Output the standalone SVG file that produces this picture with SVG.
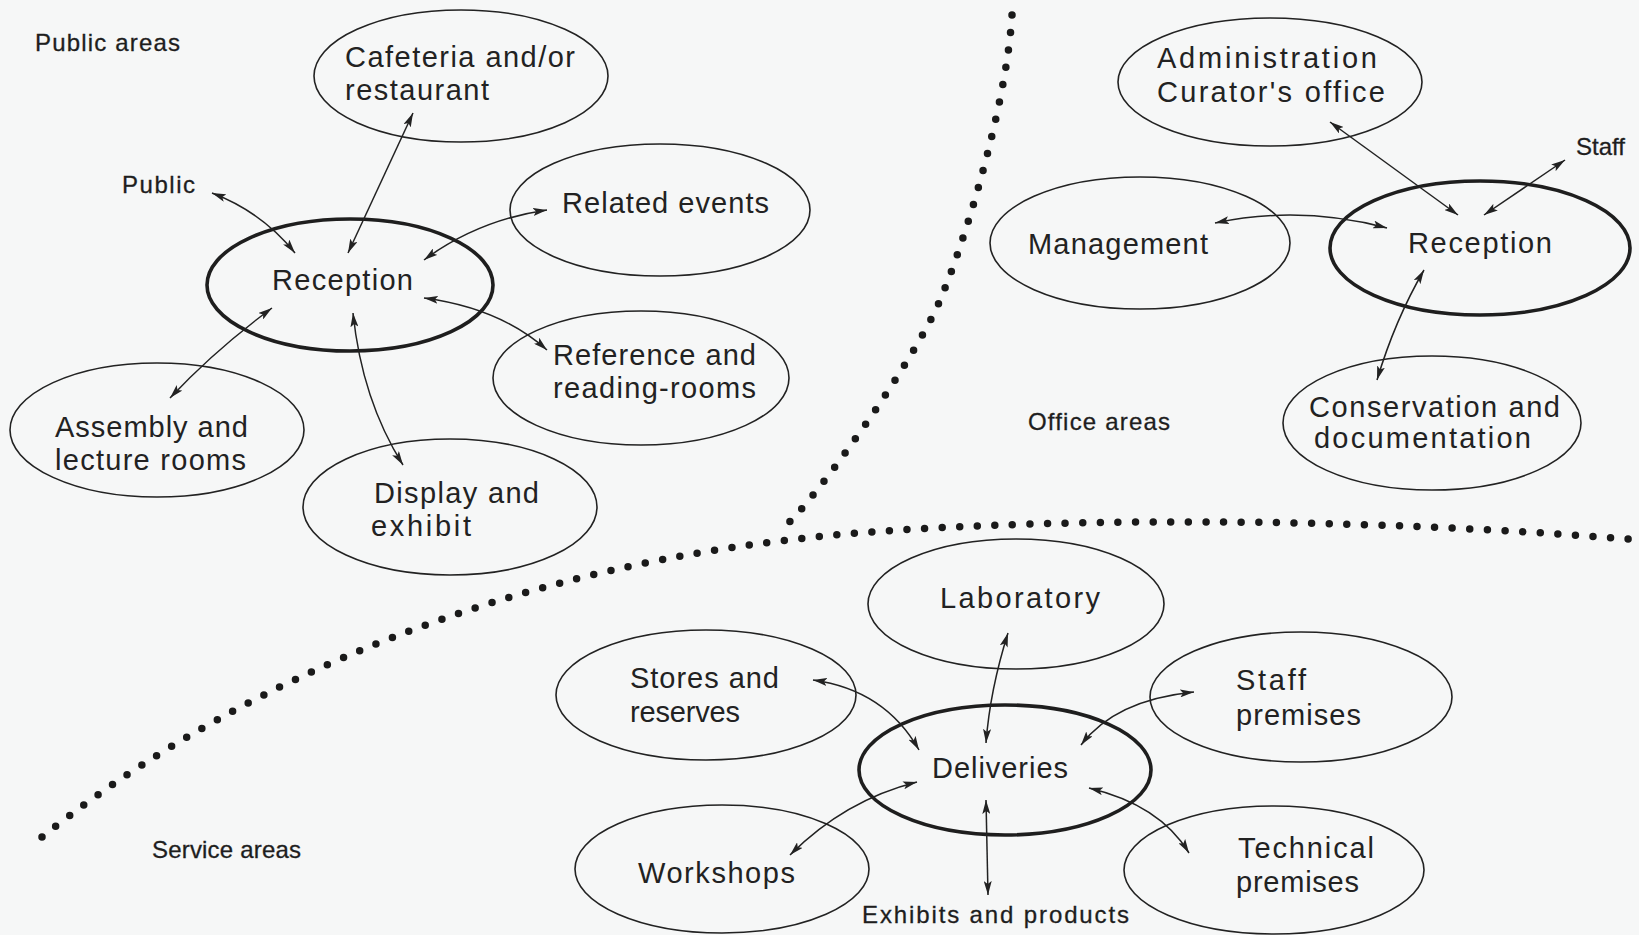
<svg xmlns="http://www.w3.org/2000/svg" width="1639" height="935" viewBox="0 0 1639 935">
<style>
.n{fill:none;stroke:#222;stroke-width:1.6}
.k{fill:none;stroke:#1e1e1e;stroke-width:3.6}
.t{font-family:"Liberation Sans",Arial,sans-serif;font-size:29px;fill:#222}
.s{font-family:"Liberation Sans",Arial,sans-serif;font-size:24px;fill:#1e1e1e;stroke:#1e1e1e;stroke-width:0.3}
.c{fill:none;stroke:#222;stroke-width:1.5;marker-start:url(#ah);marker-end:url(#ah)}
.d{fill:none;stroke:#1a1a1a;stroke-width:7.5;stroke-linecap:round;stroke-dasharray:0 17.6}
</style>
<defs>
<marker id="ah" viewBox="0 0 14 8" refX="14" refY="4" markerWidth="14" markerHeight="8" markerUnits="userSpaceOnUse" orient="auto-start-reverse">
<path d="M0,0 L14,4 L0,8 L3,4 z" fill="#222"/>
</marker>
</defs>
<rect width="1639" height="935" fill="#f6f7f7"/>

<g id="dividers">
<path class="d" d="M1012,15 C1006,110 962,250 940,300 C918,355 815,502 781,530"/>
<path class="d" d="M42,837 C200,710 450,580 788,540 C950,520 1300,512 1639,540"/>
</g>

<g id="labels">
<text class="s" x="35" y="51" textLength="145">Public areas</text>
<text class="s" x="122" y="193" textLength="73">Public</text>
<text class="s" x="1576" y="155" textLength="49">Staff</text>
<text class="s" x="1028" y="430" textLength="142">Office areas</text>
<text class="s" x="152" y="858" textLength="149">Service areas</text>
<text class="s" x="862" y="923" textLength="267">Exhibits and products</text>
</g>

<g id="cafeteria"><ellipse class="n" cx="461" cy="76" rx="147" ry="66"/>
<text class="t" x="345" y="67" textLength="230">Cafeteria and/or</text>
<text class="t" x="345" y="100" textLength="144">restaurant</text></g>

<g id="reception-public"><ellipse class="k" cx="350" cy="285" rx="143" ry="66"/>
<text class="t" x="272" y="290" textLength="141">Reception</text></g>

<g id="related-events"><ellipse class="n" cx="660" cy="210" rx="150" ry="66"/>
<text class="t" x="562" y="213" textLength="207">Related events</text></g>

<g id="reference"><ellipse class="n" cx="641" cy="378" rx="148" ry="67"/>
<text class="t" x="553" y="365" textLength="203">Reference and</text>
<text class="t" x="553" y="398" textLength="203">reading-rooms</text></g>

<g id="assembly"><ellipse class="n" cx="157" cy="430" rx="147" ry="67"/>
<text class="t" x="55" y="437" textLength="193">Assembly and</text>
<text class="t" x="55" y="470" textLength="191">lecture rooms</text></g>

<g id="display"><ellipse class="n" cx="450" cy="507" rx="147" ry="68"/>
<text class="t" x="374" y="503" textLength="165">Display and</text>
<text class="t" x="371" y="536" textLength="100">exhibit</text></g>

<g id="administration"><ellipse class="n" cx="1270" cy="82" rx="152" ry="64"/>
<text class="t" x="1157" y="68" textLength="220">Administration</text>
<text class="t" x="1157" y="102" textLength="228">Curator's office</text></g>

<g id="management"><ellipse class="n" cx="1140" cy="243" rx="150" ry="66"/>
<text class="t" x="1028" y="254" textLength="180">Management</text></g>

<g id="reception-office"><ellipse class="k" cx="1480" cy="248" rx="150" ry="67"/>
<text class="t" x="1408" y="253" textLength="144">Reception</text></g>

<g id="conservation"><ellipse class="n" cx="1432" cy="423" rx="149" ry="67"/>
<text class="t" x="1309" y="417" textLength="251">Conservation and</text>
<text class="t" x="1314" y="448" textLength="217">documentation</text></g>

<g id="laboratory"><ellipse class="n" cx="1016" cy="604" rx="148" ry="65"/>
<text class="t" x="940" y="608" textLength="160">Laboratory</text></g>

<g id="stores"><ellipse class="n" cx="706" cy="695" rx="150" ry="65"/>
<text class="t" x="630" y="688" textLength="149">Stores and</text>
<text class="t" x="630" y="722" textLength="110">reserves</text></g>

<g id="staff-premises"><ellipse class="n" cx="1301" cy="697" rx="151" ry="65"/>
<text class="t" x="1236" y="690" textLength="70">Staff</text>
<text class="t" x="1236" y="725" textLength="125">premises</text></g>

<g id="deliveries"><ellipse class="k" cx="1005" cy="770" rx="146" ry="65"/>
<text class="t" x="932" y="778" textLength="136">Deliveries</text></g>

<g id="workshops"><ellipse class="n" cx="722" cy="869" rx="147" ry="64"/>
<text class="t" x="638" y="883" textLength="157">Workshops</text></g>

<g id="technical"><ellipse class="n" cx="1274" cy="870" rx="150" ry="64"/>
<text class="t" x="1238" y="858" textLength="136">Technical</text>
<text class="t" x="1236" y="892" textLength="123">premises</text></g>

<g id="connectors">
<path class="c" d="M413,113 L348,253"/>
<path class="c" d="M212,193 Q262,212 295,253"/>
<path class="c" d="M424,260 Q478,220 547,210"/>
<path class="c" d="M424,298 Q500,308 547,350"/>
<path class="c" d="M272,308 Q215,350 170,398"/>
<path class="c" d="M353,313 Q362,400 403,465"/>
<path class="c" d="M1330,122 L1458,215"/>
<path class="c" d="M1565,160 L1484,215"/>
<path class="c" d="M1215,223 Q1300,205 1387,228"/>
<path class="c" d="M1424,270 Q1395,320 1377,380"/>
<path class="c" d="M813,680 Q885,690 919,750"/>
<path class="c" d="M1008,633 Q990,690 986,743"/>
<path class="c" d="M1194,692 Q1115,700 1081,745"/>
<path class="c" d="M790,855 Q845,800 917,782"/>
<path class="c" d="M1089,788 Q1160,805 1189,853"/>
<path class="c" d="M986,800 L988,895"/>
</g>
</svg>
